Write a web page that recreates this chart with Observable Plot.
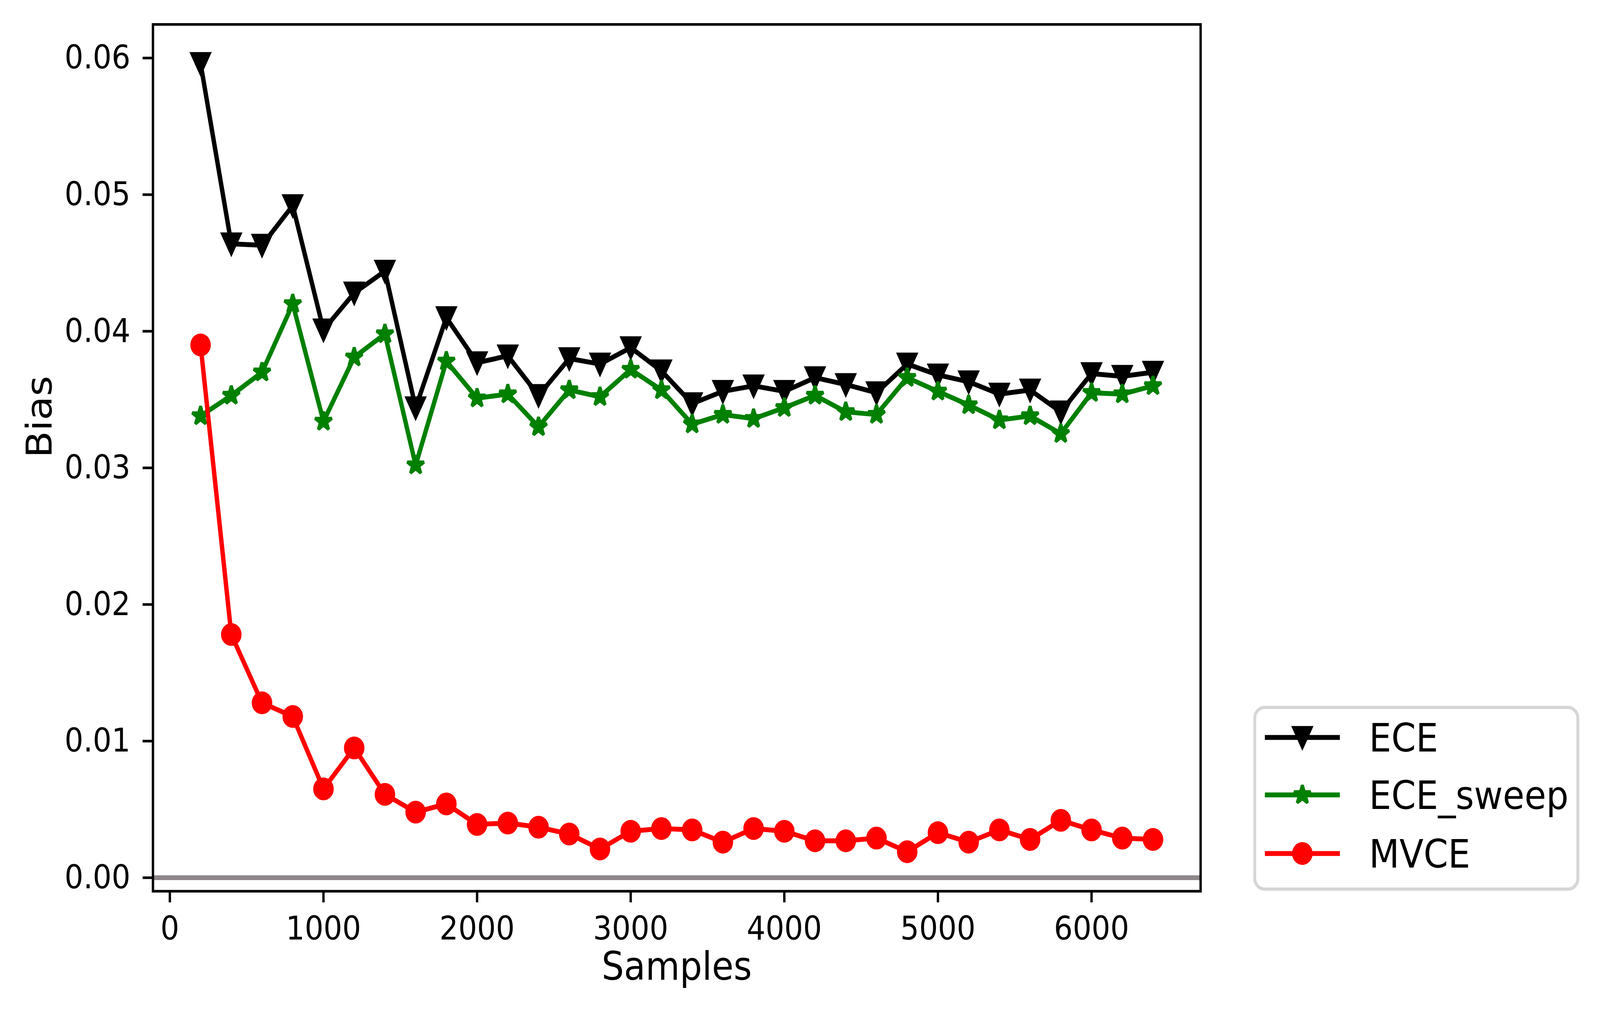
<!DOCTYPE html>
<html>
<head>
<meta charset="utf-8">
<script src="https://cdn.jsdelivr.net/npm/d3@7"></script>
<script src="https://cdn.jsdelivr.net/npm/@observablehq/plot@0.6"></script>
<style>
  html, body { margin: 0; padding: 0; background: #ffffff; overflow: hidden; }
  #wrap { position: absolute; left: 0; top: 0; width: 4545px; height: 2610px; transform-origin: 0 0; }
  #chart svg { display: block; }
  #legend { position: absolute; left: 3560px; top: 1806px; }
</style>
</head>
<body>
<div id="wrap">
  <div id="chart"></div>
  <svg id="legend" width="930" height="478" font-family="DejaVu Sans"></svg>
</div>
<script>
// ---- data ----
const samples = [200, 400, 600, 800, 1000, 1200, 1400, 1600, 1800, 2000, 2200, 2400, 2600, 2800, 3000, 3200,
                 3400, 3600, 3800, 4000, 4200, 4400, 4600, 4800, 5000, 5200, 5400, 5600, 5800, 6000, 6200, 6400];
const ece = [0.0596, 0.0464, 0.0463, 0.0492, 0.0401, 0.0428, 0.0444, 0.0344, 0.0410, 0.0377, 0.0382, 0.0353,
             0.0380, 0.0376, 0.0388, 0.0371, 0.0347, 0.0356, 0.0360, 0.0356, 0.0366, 0.0361, 0.0355, 0.0376,
             0.0368, 0.0363, 0.0354, 0.0357, 0.0341, 0.0369, 0.0367, 0.0370];
const eceSweep = [0.0338, 0.0353, 0.0370, 0.0420, 0.0334, 0.0381, 0.0398, 0.0302, 0.0378, 0.0351, 0.0354, 0.0330,
                  0.0357, 0.0352, 0.0372, 0.0357, 0.0332, 0.0339, 0.0336, 0.0344, 0.0353, 0.0341, 0.0339, 0.0366,
                  0.0356, 0.0346, 0.0335, 0.0338, 0.0325, 0.0355, 0.0354, 0.0360];
const mvce = [0.0390, 0.0178, 0.0128, 0.0118, 0.0065, 0.0095, 0.0061, 0.0048, 0.0054, 0.0039, 0.0040, 0.0037,
              0.0032, 0.0021, 0.0034, 0.0036, 0.0035, 0.0026, 0.0036, 0.0034, 0.0027, 0.0027, 0.0029, 0.0019,
              0.0033, 0.0026, 0.0035, 0.0028, 0.0042, 0.0035, 0.0029, 0.0028];
const seriesNames = ["ECE", "ECE_sweep", "MVCE"];
const seriesColors = ["#000000", "#008000", "#ff0000"];
const xTicks = [0, 1000, 2000, 3000, 4000, 5000, 6000];
const yTicks = [0.00, 0.01, 0.02, 0.03, 0.04, 0.05, 0.06];
const baseline = [0];
const xLabel = "Samples";
const yLabel = "Bias";

// ---- fit the 4545x2610 design into the actual viewport ----
const W = 4545, H = 2610;
const sx = (window.innerWidth || W) / W, sy = (window.innerHeight || H) / H;
document.getElementById("wrap").style.transform = `scale(${sx}, ${sy})`;

// ---- custom marker symbols (matplotlib-like) ----
const triangleDown = {
  draw(ctx, size) {
    const r = Math.sqrt(size / Math.PI);
    ctx.moveTo(-r, -r); ctx.lineTo(r, -r); ctx.lineTo(0, r); ctx.closePath();
  }
};
const star5 = {
  draw(ctx, size) {
    const R = Math.sqrt(size / Math.PI), r = R * 0.381966;
    for (let i = 0; i < 10; i++) {
      const a = -Math.PI / 2 + i * Math.PI / 5, rr = i % 2 ? r : R;
      const px = rr * Math.cos(a), py = rr * Math.sin(a);
      if (i === 0) ctx.moveTo(px, py); else ctx.lineTo(px, py);
    }
    ctx.closePath();
  }
};
const circle = {
  draw(ctx, size) {
    const r = Math.sqrt(size / Math.PI);
    ctx.moveTo(r, 0); ctx.arc(0, 0, r, 0, 2 * Math.PI);
  }
};
const symbols = [triangleDown, star5, circle];
const joins = ["miter", "bevel", "round"];

const seriesValues = [ece, eceSweep, mvce];
const tables = seriesValues.map((vals, k) => samples.map((s, i) => ({x: s, y: vals[i], name: seriesNames[k]})));

const lw = 12.5, mew = 8.3, ms = 25;

const marks = [
  Plot.ruleY(baseline, {stroke: "#8e868a", strokeWidth: 12.3}),
];
tables.forEach((t, k) => {
  marks.push(Plot.line(t, {x: "x", y: "y", stroke: seriesColors[k], strokeWidth: lw, strokeLinejoin: "round", strokeLinecap: "square"}));
  marks.push(Plot.dot(t, {x: "x", y: "y", r: ms, symbol: symbols[k], fill: seriesColors[k], stroke: seriesColors[k], strokeWidth: mew, strokeLinejoin: joins[k]}));
});
marks.push(
  Plot.frame({stroke: "#000", strokeWidth: 6.7}),
  Plot.axisX({ticks: xTicks, tickFormat: "d", tickSize: 29, tickPadding: 35, strokeWidth: 6.7, label: null, fontSize: 84}),
  Plot.axisY({ticks: yTicks, tickFormat: ".2f", tickSize: 29, tickPadding: 35, strokeWidth: 6.7, label: null, fontSize: 84}),
  Plot.text([xLabel], {frameAnchor: "bottom", dy: 226, fontSize: 100, fill: "#000"}),
  Plot.text([yLabel], {frameAnchor: "left", dx: -320, rotate: -90, fontSize: 100, fill: "#000"})
);

const chart = Plot.plot({
  width: W,
  height: H,
  marginLeft: 434,
  marginRight: W - 3410,
  marginTop: 62,
  marginBottom: H - 2280,
  x: {domain: [-110, 6710]},
  y: {domain: [-0.00099, 0.06246]},
  style: {fontFamily: "DejaVu Sans", fontSize: "84px", background: "#ffffff", color: "#000", overflow: "visible", maxWidth: "none"},
  marks
});
document.getElementById("chart").appendChild(chart);

// ---- legend (outside the axes, lower-right) ----
const lg = d3.select("#legend");
lg.append("rect").attr("x", 4.15).attr("y", 4.15).attr("width", 918).attr("height", 465)
  .attr("rx", 28).attr("ry", 28).attr("fill", "#ffffff").attr("stroke", "#d6d6d6").attr("stroke-width", 8.3);
const rowCenters = [81, 228, 378];
seriesNames.forEach((name, k) => {
  const cy = rowCenters[k];
  lg.append("line").attr("x1", 33).attr("x2", 246).attr("y1", cy).attr("y2", cy)
    .attr("stroke", seriesColors[k]).attr("stroke-width", lw);
  const p = d3.path();
  symbols[k].draw(p, ms * ms * Math.PI);
  lg.append("path").attr("d", p.toString()).attr("transform", `translate(139.5,${cy})`)
    .attr("fill", seriesColors[k]).attr("stroke", seriesColors[k]).attr("stroke-width", mew)
    .attr("stroke-linejoin", joins[k]);
  lg.append("text").attr("x", 329).attr("y", cy + 36).attr("font-size", 100).attr("fill", "#000").text(name);
});
</script>
</body>
</html>
